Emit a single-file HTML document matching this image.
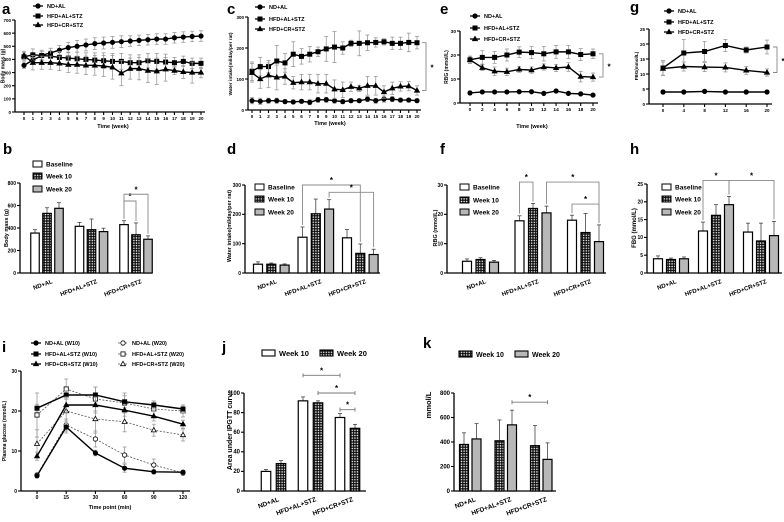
<!DOCTYPE html>
<html><head><meta charset="utf-8"><style>
html,body{margin:0;padding:0;background:#fff;}
svg{display:block;font-family:"Liberation Sans",sans-serif;font-weight:bold;}
</style></head><body>
<svg id="fig" xmlns="http://www.w3.org/2000/svg" width="784" height="522" viewBox="0 0 784 522">
<defs>
<pattern id="chk" width="2.6" height="2.6" patternUnits="userSpaceOnUse"><rect width="2.6" height="2.6" fill="#111"/><circle cx="1.3" cy="1.3" r="0.75" fill="#fff"/></pattern>
</defs>
<rect width="784" height="522" fill="#fff"/>
</svg>
<script>
// ---------- DATA ----------
const weeksA = [0,1,2,3,4,5,6,7,8,9,10,11,12,13,14,15,16,17,18,19,20];
const aND = [355,395,430,450,470,490,500,510,520,525,530,535,540,545,550,555,555,565,570,575,578];
const aNDErr = [25,30,30,35,35,40,45,45,45,45,45,45,40,40,40,40,40,40,40,40,40];
const aAL = [420,435,430,425,415,410,405,400,395,390,385,385,375,375,390,385,380,375,385,370,370];
const aALErr = [30,45,40,40,45,45,50,50,55,60,60,60,60,60,55,60,60,40,40,40,40];
const aCR = [430,375,375,375,370,360,360,355,355,350,340,295,330,330,315,310,325,315,305,300,300];
const aCRErr = [30,55,50,50,55,60,65,70,75,80,90,95,80,85,90,100,90,30,50,80,40];
const aTicks = [0,100,200,300,400,500,600,700];

const cND = [30,28,30,30,27,26,28,25,33,33,30,27,30,30,35,30,35,35,32,32,30];
const cNDErr = [10,10,8,8,6,6,6,8,8,8,8,6,6,6,8,8,10,8,6,6,6];
const cAL = [125,140,140,158,152,180,173,180,188,197,203,200,215,215,217,218,220,215,215,218,217];
const cALErr = [30,30,20,50,30,40,25,25,15,40,50,20,10,40,25,15,10,20,20,30,20];
const cCR = [120,100,112,105,108,88,90,90,85,85,67,65,75,70,78,78,58,70,76,77,63];
const cCRErr = [30,30,40,40,25,20,25,25,30,30,30,25,15,10,30,30,20,20,15,15,15];
const cTicks = [0,100,200,300];

const weeksE = [0,2,4,6,8,10,12,14,16,18,20];
const eND = [4.2,4.6,4.6,4.6,4.7,4.7,4.0,5.0,4.0,3.8,3.3];
const eNDErr = [0.8,0.5,0.5,0.5,0.4,0.4,0.4,0.4,0.4,0.4,0.4];
const eAL = [18,19,19,20,21.2,21,20.5,21.3,21.3,20.2,20.5];
const eALErr = [1.5,2.8,2.5,2.5,2.2,2.5,3,2.7,2.7,2.5,2];
const eCR = [18,14.7,13.2,13,14,13.7,15,14.6,15,11,10.8];
const eCRErr = [1.5,1.2,1.8,1.5,1.2,1.3,1.3,1.5,1.8,2.2,1.7];
const eTicks = [0,10,20,30];

const weeksG = [0,4,8,12,16,20];
const gND = [4,4,4.2,4,4,4];
const gNDErr = [0.6,0.4,0.4,0.4,0.6,0.4];
const gAL = [12,17,17.5,19.5,18,19];
const gALErr = [2.5,4.5,3.3,2,1,2.3];
const gCR = [11.8,12.5,12.3,12.2,11.2,10.5];
const gCRErr = [2.2,1.5,1.5,1.5,1.3,1.2];
const gTicks = [0,5,10,15,20,25];

const groups = ['ND+AL','HFD+AL+STZ','HFD+CR+STZ'];
const bBase = [355,415,430], bBaseErr = [30,35,35];
const bW10 = [530,385,340], bW10Err = [50,95,105];
const bW20 = [575,368,300], bW20Err = [50,30,30];
const bTicks = [0,200,400,600,800];

const dBase = [30,122,120], dBaseErr = [8,35,28];
const dW10 = [30,202,67], dW10Err = [4,50,32];
const dW20 = [27,218,63], dW20Err = [4,32,18];
const dTicks = [0,100,200,300];

const fBase = [4,17.8,18], fBaseErr = [0.8,1.7,1.7];
const fW10 = [4.6,22,13.8], fW10Err = [0.6,1.7,6.5];
const fW20 = [3.7,20.5,10.7], fW20Err = [0.6,2.3,5.7];
const fTicks = [0,10,20,30];

const hBase = [4,11.8,11.5], hBaseErr = [0.8,2.5,2.5];
const hW10 = [3.8,16.2,9], hW10Err = [0.4,3,5];
const hW20 = [4,19.2,10.5], hW20Err = [0.5,2.3,4];
const hTicks = [0,5,10,15,20,25];

const timesI = ['0','15','30','60','90','120'];
const iND10 = [3.8,16,9.5,5.7,4.8,4.7], iND10Err = [0.5,1.5,0.7,1,0.5,0.5];
const iAL10 = [20.7,24,24,22.3,21.5,20.5], iAL10Err = [1,1,2,1.5,1,1];
const iCR10 = [8.7,21.5,21.5,20.2,18.7,16.7], iCR10Err = [1,2,2,1.5,1.2,1];
const iND20 = [4,16.5,13,9,6.5,4.5], iND20Err = [0.5,1.5,2,2,1.5,0.5];
const iAL20 = [19,25.5,23,22,20.5,20], iAL20Err = [5.5,2.5,3,2.5,2,1.5];
const iCR20 = [11.8,20,18,17.3,15.2,14], iCR20Err = [3.5,3,3.5,2.5,1.5,1.5];
const iTicks = [0,10,20,30];

const jW10 = [20,92,75], jW10Err = [2,4,4];
const jW20 = [28,90,64], jW20Err = [3,2,4];
const jTicks = [0,20,40,60,80,100];

const kW10 = [380,410,370], kW10Err = [95,170,165];
const kW20 = [425,540,258], kW20Err = [125,120,135];
const kTicks = [0,200,400,600,800];

// ---------- HELPERS ----------
const NS = 'http://www.w3.org/2000/svg';
const svg = document.getElementById('fig');
function mk(tag, attrs, parent){
  const e = document.createElementNS(NS, tag);
  for (const k in attrs) e.setAttribute(k, attrs[k]);
  (parent || svg).appendChild(e);
  return e;
}
function txt(s, x, y, size, anchor, parent, transform){
  const t = mk('text', {x:x, y:y, 'font-size':size, 'text-anchor':anchor||'start', fill:'#000'}, parent);
  if (transform) t.setAttribute('transform', transform);
  t.textContent = s;
  return t;
}
function panelLetter(s, x, y){
  const t = txt(s, x, y, 15, 'start');
  
  
}
function marker(g, type, x, y, open){
  const fill = open ? '#fff' : '#000';
  let m;
  if (type === 'circle') m = mk('circle', {cx:x, cy:y, r:2.2, fill:fill, stroke:'#000', 'stroke-width':0.8}, g);
  else if (type === 'square') m = mk('rect', {x:x-2.1, y:y-2.1, width:4.2, height:4.2, fill:fill, stroke:'#000', 'stroke-width':0.8}, g);
  else m = mk('polygon', {points:(x)+','+(y-2.7)+' '+(x+2.5)+','+(y+1.7)+' '+(x-2.5)+','+(y+1.7), fill:fill, stroke:'#000', 'stroke-width':0.8}, g);
  
  
  return m;
}
function yAxis(g, ax, ay0, ayTop, ticks, ymax, fs){
  const ys = v => ay0 - v / ymax * (ay0 - ayTop);
  const l = mk('line', {x1:ax, y1:ay0, x2:ax, y2:ys(ticks[ticks.length-1]), stroke:'#000', 'stroke-width':1.3}, g);
  
  
  ticks.forEach(t => {
    mk('line', {x1:ax-3, y1:ys(t), x2:ax, y2:ys(t), stroke:'#000', 'stroke-width':1.1}, g);
    const tl = txt(String(t), ax-4, ys(t)+1.8, fs||5.5, 'end', g);
    
    
  });
  return ys;
}
function lineChart(o){
  const g = mk('g', {});
  
  
  const ys = yAxis(g, o.ax, o.ay0, o.ayTop, o.yticks, o.ymax, o.fs);
  const n = o.xlabels.length;
  const xs = i => o.x0 + i * (o.x1 - o.x0) / (n - 1);
  const xl = mk('line', {x1:o.ax, y1:o.ay0, x2:o.axEnd, y2:o.ay0, stroke:'#000', 'stroke-width':1.3}, g);
  
  
  o.xlabels.forEach((lab, i) => {
    mk('line', {x1:xs(i), y1:o.ay0, x2:xs(i), y2:o.ay0+3, stroke:'#000', 'stroke-width':1.1}, g);
    const tl = txt(String(lab), xs(i), o.ay0+8, o.fs||5.5, 'middle', g);
    
    
  });
  o.series.forEach(s => {
    const sg = mk('g', {}, g);
    
    
    s.vals.forEach((v, i) => {
      const e = s.errs[i];
      mk('line', {x1:xs(i), y1:ys(v-e), x2:xs(i), y2:ys(v+e), stroke:'#999', 'stroke-width':0.8}, sg);
      mk('line', {x1:xs(i)-2, y1:ys(v-e), x2:xs(i)+2, y2:ys(v-e), stroke:'#999', 'stroke-width':0.8}, sg);
      mk('line', {x1:xs(i)-2, y1:ys(v+e), x2:xs(i)+2, y2:ys(v+e), stroke:'#999', 'stroke-width':0.8}, sg);
    });
    const pts = s.vals.map((v, i) => xs(i) + ',' + ys(v)).join(' ');
    const pl = mk('polyline', {points:pts, fill:'none', stroke:s.open ? '#555' : '#000', 'stroke-width':s.open ? 0.8 : 1.4}, sg);
    if (s.dash) pl.setAttribute('stroke-dasharray', '2,1.5');
    
    
    s.vals.forEach((v, i) => marker(sg, s.marker, xs(i), ys(v), s.open));
  });
  if (o.bracket){
    const b = o.bracket;
    const ya = ys(o.series[b[0]].vals[n-1]), yb = ys(o.series[b[1]].vals[n-1]);
    const bx = o.bracketX;
    const br = mk('polyline', {points:(bx-4)+','+ya+' '+bx+','+ya+' '+bx+','+yb+' '+(bx-4)+','+yb, fill:'none', stroke:'#888', 'stroke-width':0.9}, g);
    
    
    const st = txt('*', bx+6, (ya+yb)/2+4, 8, 'middle', g);
    
    
  }
  return {g, xs, ys};
}
function lineLegend(entries, x, ys, fs){
  entries.forEach((e, i) => {
    const lg = mk('g', {});
    
    
    const l = mk('line', {x1:x, y1:ys[i], x2:x+10, y2:ys[i], stroke:e.open ? '#555' : '#000', 'stroke-width':e.open ? 0.8 : 1.3}, lg);
    if (e.dash) l.setAttribute('stroke-dasharray', '2,1.5');
    marker(lg, e.marker, x+5, ys[i], e.open);
    txt(e.label, x+14, ys[i]+2, fs||6, 'start', lg);
  });
}
function barChart(o){
  const g = mk('g', {});
  
  
  const ys = yAxis(g, o.ax, o.ay0, o.ayTop, o.yticks, o.ymax, o.fs);
  const xl = mk('line', {x1:o.ax, y1:o.ay0, x2:o.axEnd, y2:o.ay0, stroke:'#000', 'stroke-width':1.3}, g);
  
  
  const bx = (gi, si) => o.start + gi * o.stride + si * o.spacing;
  groups.forEach((name, gi) => {
    o.series.forEach((s, si) => {
      const v = s.vals[gi], e = s.errs[gi], cx = bx(gi, si);
      mk('line', {x1:cx, y1:ys(v), x2:cx, y2:ys(v+e), stroke:'#444', 'stroke-width':0.8}, g);
      mk('line', {x1:cx-2, y1:ys(v+e), x2:cx+2, y2:ys(v+e), stroke:'#444', 'stroke-width':0.8}, g);
      const r = mk('rect', {x:cx-o.bw/2, y:ys(v), width:o.bw, height:o.ay0-ys(v), fill:s.fill, stroke:'#000', 'stroke-width':1.2}, g);
      
      
    });
    const c = bx(gi, (o.series.length-1)/2) + 6;
    const tl = txt(name, c, o.ay0+10, o.lfs||6, 'end', g, 'rotate(-20 ' + c + ' ' + (o.ay0+10) + ')');
    
    
  });
  (o.sig||[]).forEach(sg => {
    const xa = bx(sg[0], sg[1]), xb = bx(sg[2], sg[3]), y = ys(sg[4]);
    let br;
    if (sg[5] === 'caps'){
      br = mk('path', {d:'M'+xa+','+(y-2)+'V'+(y+2)+'M'+xa+','+y+'H'+xb+'M'+xb+','+(y-2)+'V'+(y+2), fill:'none', stroke:'#777', 'stroke-width':0.9}, g);
    } else {
      const ya = ys(o.series[sg[1]].vals[sg[0]] + o.series[sg[1]].errs[sg[0]]) - 2;
      const yb = ys(o.series[sg[3]].vals[sg[2]] + o.series[sg[3]].errs[sg[2]]) - 2;
      br = mk('polyline', {points:xa+','+ya+' '+xa+','+y+' '+xb+','+y+' '+xb+','+yb, fill:'none', stroke:'#888', 'stroke-width':0.9}, g);
    }
    
    
    const st = txt('*', (xa+xb)/2, y-2, 8, 'middle', g);
    
    
  });
  return {g, ys, bx};
}
function boxLegend(entries, x, ys, fs){
  entries.forEach((e, i) => {
    const lg = mk('g', {});
    
    
    mk('rect', {x:x, y:ys[i]-3, width:9, height:6, fill:e.fill, stroke:'#000', 'stroke-width':1}, lg);
    txt(e.label, x+13, ys[i]+2.5, fs||7, 'start', lg);
  });
}
function yTitle(s, x, y, fs){
  const t = txt(s, x, y, fs||5.5, 'middle', null, 'rotate(-90 ' + x + ' ' + y + ')');
  
  
}
function xTitle(s, x, y, fs){
  const t = txt(s, x, y, fs||6, 'middle');
  
  
}
const W = '#fff', C = 'url(#chk)', G = '#b8b8b8';
const lgLines = [
  {label:'ND+AL', marker:'circle'},
  {label:'HFD+AL+STZ', marker:'square'},
  {label:'HFD+CR+STZ', marker:'tri'}
];

// ---------- PANEL a ----------
panelLetter('a', 2, 14);
lineChart({name:'chart-a-body-mass', ax:15, ay0:112, ayTop:20, ymax:700, yticks:aTicks, x0:24, x1:201, axEnd:205, xlabels:weeksA, fs:4.5,
  series:[{name:'series-nd-al', vals:aND, errs:aNDErr, marker:'circle'},
          {name:'series-hfd-al-stz', vals:aAL, errs:aALErr, marker:'square'},
          {name:'series-hfd-cr-stz', vals:aCR, errs:aCRErr, marker:'tri'}]});
lineLegend(lgLines, 33, [6,16,25], 5.5);
yTitle('Body mass (g)', 4.5, 66, 5);
xTitle('Time (week)', 113, 128, 5.5);

// ---------- PANEL c ----------
panelLetter('c', 227, 14);
lineChart({name:'chart-c-water-intake', ax:248, ay0:110, ayTop:17, ymax:300, yticks:cTicks, x0:252, x1:417, axEnd:421, xlabels:weeksA, fs:4.5,
  series:[{name:'series-nd-al', vals:cND, errs:cNDErr, marker:'circle'},
          {name:'series-hfd-al-stz', vals:cAL, errs:cALErr, marker:'square'},
          {name:'series-hfd-cr-stz', vals:cCR, errs:cCRErr, marker:'tri'}],
  bracket:[1,2], bracketX:426});
lineLegend(lgLines, 255, [7,19,29], 5.5);
yTitle('Water intake(ml/day/per rat)', 232, 64, 4.8);
xTitle('Time (week)', 330, 125, 5.5);

// ---------- PANEL e ----------
panelLetter('e', 440, 14);
lineChart({name:'chart-e-rbg', ax:460, ay0:103, ayTop:31, ymax:30, yticks:eTicks, x0:470, x1:593, axEnd:598, xlabels:weeksE, fs:4.8,
  series:[{name:'series-nd-al', vals:eND, errs:eNDErr, marker:'circle'},
          {name:'series-hfd-al-stz', vals:eAL, errs:eALErr, marker:'square'},
          {name:'series-hfd-cr-stz', vals:eCR, errs:eCRErr, marker:'tri'}],
  bracket:[1,2], bracketX:603});
lineLegend(lgLines, 470, [16,28,39], 5.5);
yTitle('RBG (mmol/L)', 448, 67, 5);
xTitle('Time (week)', 532, 128, 5.5);

// ---------- PANEL g ----------
panelLetter('g', 630, 12);
lineChart({name:'chart-g-fbg', ax:649, ay0:104, ayTop:29, ymax:25, yticks:gTicks, x0:663, x1:767, axEnd:772, xlabels:weeksG, fs:4.5,
  series:[{name:'series-nd-al', vals:gND, errs:gNDErr, marker:'circle'},
          {name:'series-hfd-al-stz', vals:gAL, errs:gALErr, marker:'square'},
          {name:'series-hfd-cr-stz', vals:gCR, errs:gCRErr, marker:'tri'}],
  bracket:[1,2], bracketX:777});
lineLegend(lgLines, 664, [11,22,32], 5.5);
yTitle('FBG(mmol/L)', 638, 66, 4.5);

// ---------- PANEL b ----------
const lg3 = [{label:'Baseline', fill:W},{label:'Week 10', fill:C},{label:'Week 20', fill:G}];
panelLetter('b', 3, 154);
barChart({name:'chart-b-body-mass', ax:20, axEnd:152, ay0:273, ayTop:183, ymax:800, yticks:bTicks, start:35, stride:44.5, spacing:12, bw:8.5, fs:5,
  series:[{key:'baseline', vals:bBase, errs:bBaseErr, fill:W},{key:'week10', vals:bW10, errs:bW10Err, fill:C},{key:'week20', vals:bW20, errs:bW20Err, fill:G}],
  sig:[[2,0,2,1,640],[2,0,2,2,700]]});
boxLegend(lg3, 33, [164,176,189], 6.5);
yTitle('Body mass (g)', 8, 228, 5.5);

// ---------- PANEL d ----------
panelLetter('d', 227, 154);
barChart({name:'chart-d-water-intake', ax:245, axEnd:380, ay0:273, ayTop:185, ymax:300, yticks:dTicks, start:258, stride:44.5, spacing:13.3, bw:9, fs:5,
  series:[{key:'baseline', vals:dBase, errs:dBaseErr, fill:W},{key:'week10', vals:dW10, errs:dW10Err, fill:C},{key:'week20', vals:dW20, errs:dW20Err, fill:G}],
  sig:[[1,0,2,1,300],[1,2,2,2,275]]});
boxLegend(lg3, 255, [187,199,212], 6.5);
yTitle('Water intake(ml/day/per rat)', 231, 226, 5.5);

// ---------- PANEL f ----------
panelLetter('f', 440, 154);
barChart({name:'chart-f-rbg', ax:447, axEnd:606, ay0:273, ayTop:185, ymax:30, yticks:fTicks, start:467, stride:52.5, spacing:13.5, bw:9, fs:5,
  series:[{key:'baseline', vals:fBase, errs:fBaseErr, fill:W},{key:'week10', vals:fW10, errs:fW10Err, fill:C},{key:'week20', vals:fW20, errs:fW20Err, fill:G}],
  sig:[[1,0,1,1,31],[1,2,2,2,31],[2,0,2,2,23.5]]});
boxLegend(lg3, 460, [187,200,212], 6.5);
yTitle('RBG (mmol/L)', 437, 228, 5.5);

// ---------- PANEL h ----------
panelLetter('h', 630, 154);
barChart({name:'chart-h-fbg', ax:647, axEnd:782, ay0:273, ayTop:184, ymax:25, yticks:hTicks, start:658, stride:45, spacing:13, bw:9, fs:5,
  series:[{key:'baseline', vals:hBase, errs:hBaseErr, fill:W},{key:'week10', vals:hW10, errs:hW10Err, fill:C},{key:'week20', vals:hW20, errs:hW20Err, fill:G}],
  sig:[[1,0,1,2,26],[1,2,2,2,26]]});
boxLegend(lg3, 662, [187,199,212], 6.5);
yTitle('FBG (mmol/L)', 636, 228, 6);

// ---------- PANEL i ----------
panelLetter('i', 2, 352);
lineChart({name:'chart-i-ipgtt', ax:21, ay0:491, ayTop:371, ymax:30, yticks:iTicks, x0:37, x1:183, axEnd:190, xlabels:timesI, fs:5,
  series:[{name:'series-nd-al-w20', vals:iND20, errs:iND20Err, marker:'circle', open:true, dash:true},
          {name:'series-hfd-al-stz-w20', vals:iAL20, errs:iAL20Err, marker:'square', open:true, dash:true},
          {name:'series-hfd-cr-stz-w20', vals:iCR20, errs:iCR20Err, marker:'tri', open:true, dash:true},
          {name:'series-nd-al-w10', vals:iND10, errs:iND10Err, marker:'circle'},
          {name:'series-hfd-al-stz-w10', vals:iAL10, errs:iAL10Err, marker:'square'},
          {name:'series-hfd-cr-stz-w10', vals:iCR10, errs:iCR10Err, marker:'tri'}]});
lineLegend([{label:'ND+AL (W10)', marker:'circle'},{label:'HFD+AL+STZ (W10)', marker:'square'},{label:'HFD+CR+STZ (W10)', marker:'tri'}], 31, [343,354,364], 5.5);
lineLegend([{label:'ND+AL (W20)', marker:'circle', open:true, dash:true},{label:'HFD+AL+STZ (W20)', marker:'square', open:true, dash:true},{label:'HFD+CR+STZ (W20)', marker:'tri', open:true, dash:true}], 118, [343,354,364], 5.5);
yTitle('Plasma glucose (mmol/L)', 6, 431, 5);
xTitle('Time point (min)', 110, 509, 5.5);

// ---------- PANEL j ----------
panelLetter('j', 222, 352);
barChart({name:'chart-j-auc', ax:244, axEnd:366, ay0:491, ayTop:393, ymax:100, yticks:jTicks, start:266, stride:37, spacing:15, bw:9.5, fs:6, lfs:6.5,
  series:[{key:'week10', vals:jW10, errs:jW10Err, fill:W},{key:'week20', vals:jW20, errs:jW20Err, fill:C}],
  sig:[[1,0,2,0,118,'caps'],[1,1,2,1,100,'caps'],[2,0,2,1,83,'caps']]});
(function(){
  const lg = [{label:'Week 10', fill:W},{label:'Week 20', fill:C}];
  const xs0 = [262, 320];
  lg.forEach((e, i) => {
    const gg = mk('g', {});
    
    
    mk('rect', {x:xs0[i], y:350, width:13, height:6, fill:e.fill, stroke:'#000', 'stroke-width':1.1}, gg);
    txt(e.label, xs0[i]+17, 356, 7.5, 'start', gg);
  });
})();
yTitle('Area under IPGTT curve', 232, 430, 7);

// ---------- PANEL k ----------
panelLetter('k', 423, 348);
barChart({name:'chart-k', ax:454, axEnd:556, ay0:491, ayTop:393, ymax:800, yticks:kTicks, start:464, stride:35.5, spacing:12.5, bw:9, fs:6, lfs:6.5,
  series:[{key:'week10', vals:kW10, errs:kW10Err, fill:C},{key:'week20', vals:kW20, errs:kW20Err, fill:G}],
  sig:[[1,1,2,1,725,'caps']]});
(function(){
  const lg = [{label:'Week 10', fill:C},{label:'Week 20', fill:G}];
  const xs0 = [459, 515];
  lg.forEach((e, i) => {
    const gg = mk('g', {});
    
    
    mk('rect', {x:xs0[i], y:351, width:13, height:6, fill:e.fill, stroke:'#000', 'stroke-width':1.1}, gg);
    txt(e.label, xs0[i]+17, 357, 7, 'start', gg);
  });
})();
yTitle('mmol/L', 431, 405, 7.5);
</script>
</body></html>
